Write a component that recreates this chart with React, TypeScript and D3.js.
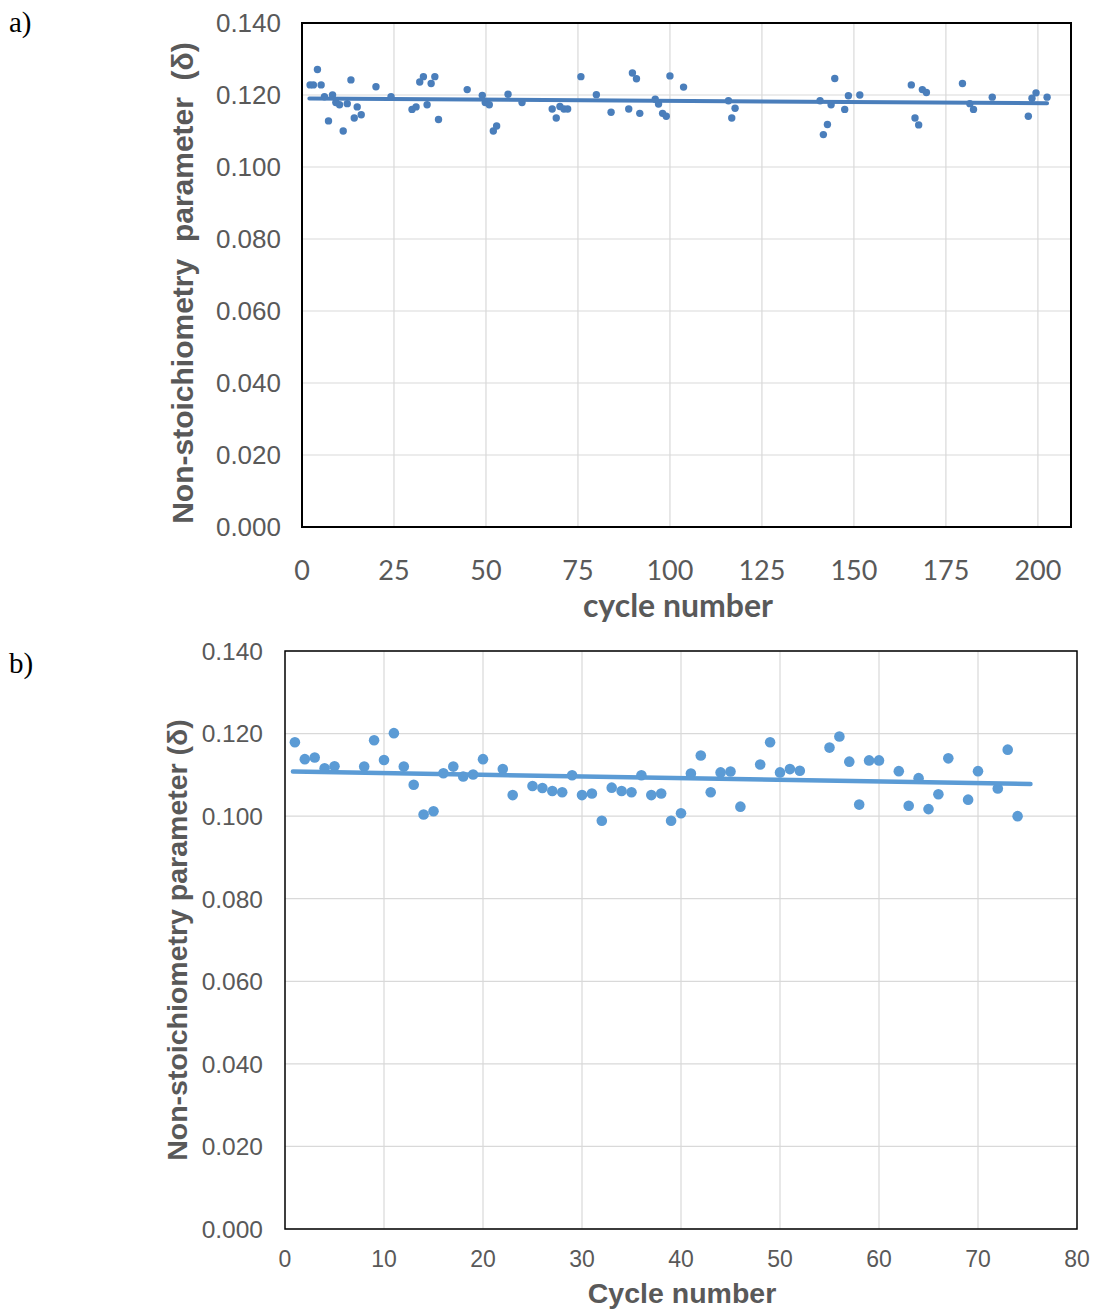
import { useEffect, useRef } from 'react'
import * as d3 from 'd3'

// panel a) — 200 cycles
const cyclesA = [2.2, 3.1, 4.2, 5.2, 6.1, 7.2, 8.3, 9.2, 10.2, 11.2, 12.3, 13.3, 14.2, 15.0, 16.1, 20.1, 24.2, 29.9, 31.0, 32.0, 33.0, 34.0, 35.1, 36.1, 37.1, 44.9, 49.0, 49.8, 50.9, 52.0, 52.9, 56.0, 59.8, 68.0, 69.1, 70.1, 71.2, 72.2, 75.8, 80.0, 84.0, 88.8, 89.8, 90.9, 91.8, 96.0, 96.9, 98.0, 99.0, 100.0, 103.7, 115.9, 116.8, 117.7, 140.8, 141.7, 142.8, 143.8, 144.8, 147.5, 148.5, 151.6, 165.6, 166.6, 167.6, 168.6, 169.7, 179.5, 181.5, 182.5, 187.6, 197.4, 198.4, 199.5, 202.5]
const deltaA = [0.1228, 0.1228, 0.1271, 0.1228, 0.1195, 0.1128, 0.1200, 0.1179, 0.1173, 0.1100, 0.1176, 0.1242, 0.1136, 0.1167, 0.1145, 0.1223, 0.1195, 0.1160, 0.1167, 0.1236, 0.1251, 0.1173, 0.1232, 0.1251, 0.1132, 0.1215, 0.1199, 0.1179, 0.1173, 0.1100, 0.1114, 0.1202, 0.1179, 0.1161, 0.1136, 0.1168, 0.1161, 0.1161, 0.1251, 0.1201, 0.1152, 0.1161, 0.1261, 0.1245, 0.1149, 0.1188, 0.1175, 0.1149, 0.1141, 0.1253, 0.1222, 0.1184, 0.1136, 0.1163, 0.1184, 0.1090, 0.1118, 0.1173, 0.1246, 0.1160, 0.1198, 0.1200, 0.1228, 0.1136, 0.1117, 0.1215, 0.1207, 0.1232, 0.1176, 0.1160, 0.1194, 0.1141, 0.1191, 0.1206, 0.1194]
const trendA = [[2.0, 0.1190], [202.5, 0.1177]]
const xTicksA = [0, 25, 50, 75, 100, 125, 150, 175, 200]

// panel b) — 75 cycles
const cyclesB = [1, 2, 3, 4, 5, 8, 9, 10, 11, 12, 13, 14, 15, 16, 17, 18, 19, 20, 22, 23, 25, 26, 27, 28, 29, 30, 31, 32, 33, 34, 35, 36, 37, 38, 39, 40, 41, 42, 43, 44, 45, 46, 48, 49, 50, 51, 52, 55, 56, 57, 58, 59, 60, 62, 63, 64, 65, 66, 67, 69, 70, 72, 73, 74]
const deltaB = [0.1179, 0.1138, 0.1142, 0.1116, 0.1121, 0.1120, 0.1184, 0.1136, 0.1201, 0.1120, 0.1076, 0.1004, 0.1012, 0.1104, 0.1120, 0.1096, 0.1101, 0.1138, 0.1114, 0.1051, 0.1073, 0.1068, 0.1061, 0.1058, 0.1099, 0.1051, 0.1055, 0.0989, 0.1069, 0.1061, 0.1058, 0.1099, 0.1051, 0.1055, 0.0989, 0.1007, 0.1103, 0.1147, 0.1058, 0.1106, 0.1108, 0.1023, 0.1125, 0.1179, 0.1106, 0.1114, 0.1110, 0.1166, 0.1193, 0.1132, 0.1028, 0.1135, 0.1135, 0.1109, 0.1025, 0.1092, 0.1017, 0.1053, 0.1140, 0.1040, 0.1109, 0.1067, 0.1161, 0.1000]
const trendB = [[0.8, 0.1108], [75.3, 0.1078]]
const xTicksB = [0, 10, 20, 30, 40, 50, 60, 70, 80]

const yTicks = [0, 0.02, 0.04, 0.06, 0.08, 0.1, 0.12, 0.14]

const ARIAL = 'Liberation Sans, Arial, sans-serif'
const CALIBRI = 'Lato, Carlito, Calibri, sans-serif'
const GREY = '#595959'

type Panel = {
  letter: string
  letterY: number
  box: { left: number; top: number; right: number; bottom: number }
  xMax: number
  xs: number[]
  ys: number[]
  trend: number[][]
  xTicks: number[]
  color: string
  r: number
  lineW: number
  frameW: number
  yTickSize: number
  xTickSize: number
  xTickFont: string
  labelGap: number
  xLabelY: number
  xTitle: string
  xTitleX: number
  xTitleY: number
  xTitleSize: number
  xTitleFont: string
  yTitle: string
  yTitleX: number
  yTitleY: number
  yTitleSize: number
}

const panels: Panel[] = [
  {
    letter: 'a)', letterY: 32,
    box: { left: 302, top: 23, right: 1071, bottom: 527 },
    xMax: 209, xs: cyclesA, ys: deltaA, trend: trendA, xTicks: xTicksA,
    color: '#4a7ebb', r: 3.7, lineW: 4, frameW: 2,
    yTickSize: 26, xTickSize: 27, xTickFont: CALIBRI, labelGap: 21, xLabelY: 580,
    xTitle: 'cycle number', xTitleX: 678, xTitleY: 617, xTitleSize: 32, xTitleFont: CALIBRI,
    yTitle: 'Non-stoichiometry  parameter  (δ)', yTitleX: 193, yTitleY: 283, yTitleSize: 30,
  },
  {
    letter: 'b)', letterY: 673,
    box: { left: 285, top: 651, right: 1077, bottom: 1229 },
    xMax: 80, xs: cyclesB, ys: deltaB, trend: trendB, xTicks: xTicksB,
    color: '#5b9bd5', r: 5.3, lineW: 4.5, frameW: 1.5,
    yTickSize: 24.5, xTickSize: 23, xTickFont: ARIAL, labelGap: 22, xLabelY: 1267,
    xTitle: 'Cycle number', xTitleX: 682, xTitleY: 1303, xTitleSize: 28.5, xTitleFont: ARIAL,
    yTitle: 'Non-stoichiometry parameter (δ)', yTitleX: 187, yTitleY: 940, yTitleSize: 28.5,
  },
]

export default function App() {
  const ref = useRef<SVGSVGElement>(null)

  useEffect(() => {
    if (!ref.current) return
    const svg = d3.select(ref.current)
    svg.selectAll('*').remove()

    panels.forEach(p => {
      const { left, top, right, bottom } = p.box
      const x = d3.scaleLinear().domain([0, p.xMax]).range([left, right])
      const y = d3.scaleLinear().domain([0, 0.14]).range([bottom, top])
      const g = svg.append('g')

      // panel letter
      g.append('text').attr('x', 9).attr('y', p.letterY)
        .style('font-family', 'Liberation Serif, serif').style('font-size', '29px').style('fill', '#000')
        .text(p.letter)

      // gridlines
      g.selectAll('.gy').data(yTicks).enter().append('line')
        .attr('x1', left).attr('x2', right)
        .attr('y1', d => y(d)).attr('y2', d => y(d))
        .attr('stroke', '#d9d9d9').attr('stroke-width', 1.2)
      g.selectAll('.gx').data(p.xTicks.filter(t => t > 0 && t < p.xMax)).enter().append('line')
        .attr('y1', top).attr('y2', bottom)
        .attr('x1', d => x(d)).attr('x2', d => x(d))
        .attr('stroke', '#d9d9d9').attr('stroke-width', 1.2)

      // frame
      g.append('rect').attr('x', left).attr('y', top)
        .attr('width', right - left).attr('height', bottom - top)
        .attr('fill', 'none').attr('stroke', '#000').attr('stroke-width', p.frameW)

      // tick labels
      g.selectAll('.yl').data(yTicks).enter().append('text')
        .attr('x', left - p.labelGap).attr('y', d => y(d)).attr('dy', '0.36em')
        .attr('text-anchor', 'end')
        .style('font-family', ARIAL).style('font-size', `${p.yTickSize}px`).style('fill', GREY)
        .text(d => d3.format('.3f')(d))
      g.selectAll('.xl').data(p.xTicks).enter().append('text')
        .attr('x', d => x(d)).attr('y', p.xLabelY)
        .attr('text-anchor', 'middle')
        .style('font-family', p.xTickFont).style('font-size', `${p.xTickSize}px`).style('fill', GREY)
        .text(d => String(d))

      // axis titles
      g.append('text').attr('x', p.xTitleX).attr('y', p.xTitleY)
        .attr('text-anchor', 'middle')
        .style('font-family', p.xTitleFont).style('font-size', `${p.xTitleSize}px`)
        .style('font-weight', '700').style('fill', GREY)
        .text(p.xTitle)
      g.append('text')
        .attr('transform', `translate(${p.yTitleX},${p.yTitleY}) rotate(-90)`)
        .attr('text-anchor', 'middle')
        .style('font-family', ARIAL).style('font-size', `${p.yTitleSize}px`)
        .style('font-weight', '700').style('fill', GREY).style('white-space', 'pre')
        .text(p.yTitle)

      // points
      g.selectAll('.pt').data(p.xs).enter().append('circle')
        .attr('cx', d => x(d)).attr('cy', (_, i) => y(p.ys[i]))
        .attr('r', p.r).attr('fill', p.color)

      // linear trend
      const line = d3.line<number[]>().x(d => x(d[0])).y(d => y(d[1]))
      g.append('path').attr('d', line(p.trend))
        .attr('fill', 'none').attr('stroke', p.color)
        .attr('stroke-width', p.lineW).attr('stroke-linecap', 'round')
    })
  }, [])

  return (
    <svg ref={ref} width={1094} height={1309}
      style={{ position: 'absolute', left: 0, top: 0, background: '#fff' }} />
  )
}
